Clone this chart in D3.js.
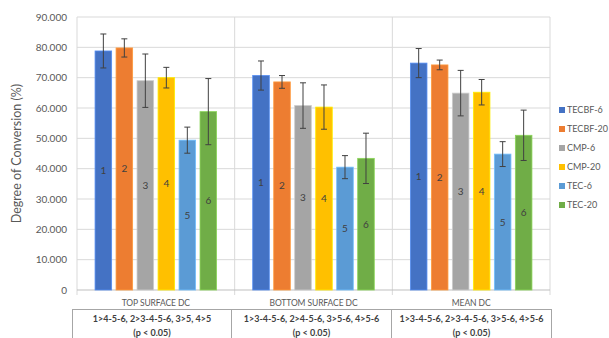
<!DOCTYPE html>
<html><head><meta charset="utf-8">
<script src="https://cdn.jsdelivr.net/npm/d3@7"></script>
<style>body{margin:0;background:#fff}svg{display:block;font-family:Lato,"Liberation Sans",sans-serif}</style>
</head><body>
<svg id="c" width="609" height="338"></svg>
<script>
const categories = ["TOP SURFACE DC", "BOTTOM SURFACE DC", "MEAN DC"];
const seriesNames = ["TECBF-6", "TECBF-20", "CMP-6", "CMP-20", "TEC-6", "TEC-20"];
const barLabels = ["1", "2", "3", "4", "5", "6"];
const colors = ["#4472C4", "#ED7D31", "#A5A5A5", "#FFC000", "#5B9BD5", "#70AD47"];
// values[series][category]
const values = [
  [78.8, 70.7, 74.8],
  [79.8, 68.6, 74.2],
  [69.0, 60.8, 64.9],
  [70.0, 60.3, 65.2],
  [49.4, 40.5, 44.8],
  [58.8, 43.4, 51.0]
];
const errors = [
  [5.6, 4.8, 4.8],
  [3.0, 2.1, 1.6],
  [8.8, 7.5, 7.5],
  [3.4, 7.3, 4.2],
  [4.3, 3.8, 4.1],
  [10.9, 8.3, 8.3]
];
const yTicks = [0, 10, 20, 30, 40, 50, 60, 70, 80, 90];
const tableLines = [
  ["1>4-5-6, 2>3-4-5-6, 3>5, 4>5", "(p < 0.05)"],
  ["1>3-4-5-6, 2>4-5-6, 3>5-6, 4>5-6", "(p < 0.05)"],
  ["1>3-4-5-6, 2>3-4-5-6, 3>5-6, 4>5-6", "(p < 0.05)"]
];
const yTitle = "Degree of Conversion (%)";

const svg = d3.select("#c");
const L = 77, R = 550, T = 17, B = 290;
const y = d3.scaleLinear().domain([0, 90]).range([B, T]);
const x0 = d3.scaleBand().domain(categories).range([L, R]).padding(0);
const x1 = d3.scaleBand().domain(seriesNames).range([0, x0.bandwidth()])
  .paddingInner(0.21).paddingOuter(0.86);

// gridlines
svg.append("g").selectAll("line").data(yTicks.filter(d => d > 0)).join("line")
  .attr("x1", L).attr("x2", R).attr("y1", d => y(d)).attr("y2", d => y(d))
  .attr("stroke", "#d9d9d9").attr("stroke-width", 1);
// vertical category boundaries
const bounds = categories.map(c => x0(c)).concat([R]);
svg.append("g").selectAll("line").data(bounds).join("line")
  .attr("x1", d => d).attr("x2", d => d).attr("y1", T).attr("y2", B + 5)
  .attr("stroke", "#d9d9d9");
// axis line
svg.append("line").attr("x1", L).attr("x2", R).attr("y1", B).attr("y2", B)
  .attr("stroke", "#bfbfbf");

// y tick labels
svg.append("g").selectAll("text").data(yTicks).join("text")
  .attr("x", 67).attr("y", d => y(d)).attr("dy", "0.35em")
  .attr("text-anchor", "end").attr("font-size", 10).attr("fill", "#595959")
  .text(d => d === 0 ? "0" : d3.format(".3f")(d));

// y title
svg.append("text").attr("transform", `translate(21,${(T + B) / 2}) rotate(-90)`)
  .attr("text-anchor", "middle").attr("font-size", 12.5).attr("fill", "#595959")
  .text(yTitle);

// bars
const data = [];
seriesNames.forEach((s, si) => categories.forEach((c, ci) => {
  data.push({s, si, c, v: values[si][ci], e: errors[si][ci]});
}));
const g = svg.append("g");
g.selectAll("rect").data(data).join("rect")
  .attr("x", d => x0(d.c) + x1(d.s)).attr("width", x1.bandwidth())
  .attr("y", d => y(d.v)).attr("height", d => B - y(d.v))
  .attr("fill", d => colors[d.si])
  .attr("stroke", d => d3.color(colors[d.si]).brighter(0.6)).attr("stroke-width", 0.8);
// labels
g.selectAll("text.bl").data(data).join("text").attr("class", "bl")
  .attr("x", d => x0(d.c) + x1(d.s) + x1.bandwidth() / 2)
  .attr("y", d => y(d.v / 2)).attr("dy", "0.35em")
  .attr("text-anchor", "middle").attr("font-size", 10).attr("fill", "#404040")
  .text(d => barLabels[d.si]);
// error bars
const eb = g.selectAll("g.eb").data(data).join("g").attr("class", "eb")
  .attr("stroke", "#404040").attr("stroke-width", 1);
eb.append("line")
  .attr("x1", d => x0(d.c) + x1(d.s) + x1.bandwidth() / 2)
  .attr("x2", d => x0(d.c) + x1(d.s) + x1.bandwidth() / 2)
  .attr("y1", d => y(d.v + d.e)).attr("y2", d => y(d.v - d.e));
[1, -1].forEach(sg => {
  eb.append("line")
    .attr("x1", d => x0(d.c) + x1(d.s) + x1.bandwidth() / 2 - 3)
    .attr("x2", d => x0(d.c) + x1(d.s) + x1.bandwidth() / 2 + 3)
    .attr("y1", d => y(d.v + sg * d.e)).attr("y2", d => y(d.v + sg * d.e));
});

// category labels
svg.append("g").selectAll("text").data(categories).join("text")
  .attr("x", d => x0(d) + x0.bandwidth() / 2).attr("y", 303).attr("dy", "0.35em")
  .attr("text-anchor", "middle").attr("font-size", 8.5).attr("fill", "#595959")
  .attr("letter-spacing", "-0.1")
  .text(d => d);

// table boxes
const boxX = [72, 231, 391, 551];
const tb = svg.append("g");
categories.forEach((c, i) => {
  tb.append("rect").attr("x", boxX[i] + 0.5).attr("y", 309.5)
    .attr("width", boxX[i + 1] - boxX[i]).attr("height", 40)
    .attr("fill", "none").attr("stroke", "#a6a6a6");
  tableLines[i].forEach((t, li) => {
    tb.append("text").attr("x", (boxX[i] + boxX[i + 1]) / 2 + 0.5).attr("y", 319 + li * 13.5)
      .attr("dy", "0.35em").attr("text-anchor", "middle").attr("font-size", 9)
      .attr("font-weight", "bold").attr("fill", "#404040").text(t);
  });
});

// legend
const lg = svg.append("g").selectAll("g").data(seriesNames).join("g")
  .attr("transform", (d, i) => `translate(559,${110 + i * 19})`);
lg.append("rect").attr("x", 0).attr("y", -3).attr("width", 6).attr("height", 6)
  .attr("fill", (d, i) => colors[i]);
lg.append("text").attr("x", 8).attr("y", 0).attr("dy", "0.35em")
  .attr("font-size", 9).attr("fill", "#595959").text(d => d);
</script>
</body></html>
